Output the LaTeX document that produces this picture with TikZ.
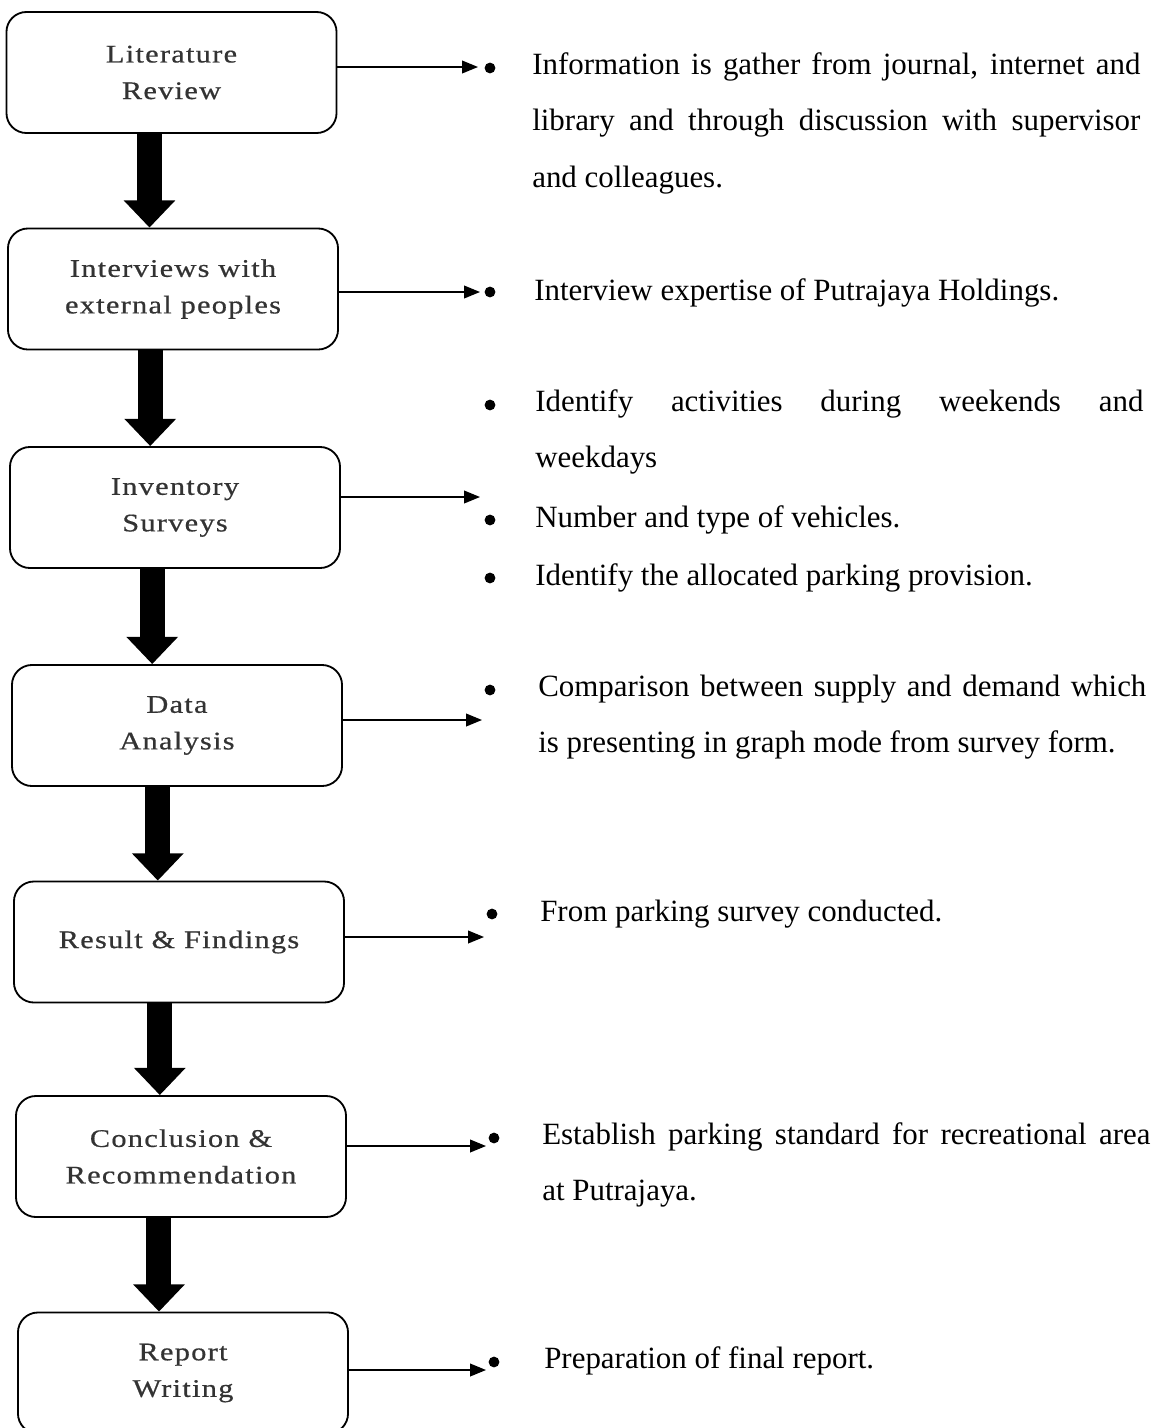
\documentclass[tikz,border=0pt]{standalone}
\usepackage{fontspec}
\setmainfont{Liberation Serif}
\newfontfamily\stagefont[LetterSpace=5,FakeStretch=1.2,FakeBold=0.6]{Liberation Serif}
\usetikzlibrary{arrows.meta}
\tikzset{
stage/.style={draw, line width=1.3pt, rounded corners=0.5cm, minimum width=8.25cm, minimum height=3.025cm, align=center, inner sep=0pt, text=black!80, font=\stagefont\fontsize{18}{26}\selectfont},
bigarrow/.style={line width=0.625cm, -{Triangle[length=0.68cm,width=1.25cm]}},
smallarrow/.style={line width=1pt, -{Triangle[length=0.4cm,width=0.32cm]}},
dot/.style={circle, fill, inner sep=0pt, minimum size=0.27cm},
item/.style={anchor=base west, inner sep=0pt, text width=15.2cm, align=justify, font=\fontsize{22}{40.5}\selectfont}
}
\begin{document}
\begin{tikzpicture}[x=0.025cm,y=-0.025cm]
\useasboundingbox (0,0) rectangle (1161,1428);
\node[stage] (lit) at (171.5,72.5) {Literature\\Review};
\node[stage] (int) at (173,289) {Interviews with\\external peoples};
\node[stage] (inv) at (175,507.5) {Inventory\\Surveys};
\node[stage] (dat) at (177,725.5) {Data\\Analysis};
\node[stage] (res) at (179,942) {Result \& Findings};
\node[stage] (con) at (181,1156.5) {Conclusion \&\\Recommendation};
\node[stage] (rep) at (183,1373) {Report\\Writing};
\draw[bigarrow] ([xshift=-0.55cm]lit.south) -- ([xshift=-0.55cm]lit.south |- int.north);
\draw[bigarrow] ([xshift=-0.57cm]int.south) -- ([xshift=-0.57cm]int.south |- inv.north);
\draw[bigarrow] ([xshift=-0.57cm]inv.south) -- ([xshift=-0.57cm]inv.south |- dat.north);
\draw[bigarrow] ([xshift=-0.48cm]dat.south) -- ([xshift=-0.48cm]dat.south |- res.north);
\draw[bigarrow] ([xshift=-0.48cm]res.south) -- ([xshift=-0.48cm]res.south |- con.north);
\draw[bigarrow] ([xshift=-0.55cm]con.south) -- ([xshift=-0.55cm]con.south |- rep.north);
\coordinate (t1) at (478,67);
\coordinate (t2) at (480,292);
\coordinate (t3) at (480,497);
\coordinate (t4) at (482,720);
\coordinate (t5) at (484,937);
\coordinate (t6) at (486,1146);
\coordinate (t7) at (486,1370);
\draw[smallarrow] (lit.east |- t1) -- (t1);
\draw[smallarrow] (int.east |- t2) -- (t2);
\draw[smallarrow] (inv.east |- t3) -- (t3);
\draw[smallarrow] (dat.east |- t4) -- (t4);
\draw[smallarrow] (res.east |- t5) -- (t5);
\draw[smallarrow] (con.east |- t6) -- (t6);
\draw[smallarrow] (rep.east |- t7) -- (t7);
\node[dot] (d1) at (490,68) {};
\node[item] (i1) at (532,74) {Information is gather from journal, internet and\linebreak library and through discussion with supervisor\linebreak and colleagues.};
\node[dot] (d2) at (490,292) {};
\node[item] (i2) at (534,300) {Interview expertise of Putrajaya Holdings.};
\node[dot] (d3) at (490,405) {};
\node[item] (i3) at (535,411) {Identify activities during weekends and\linebreak weekdays};
\node[dot] (d4) at (490,520) {};
\node[item] (i4) at (535,527) {Number and type of vehicles.};
\node[dot] (d5) at (490,578) {};
\node[item] (i5) at (535,585) {Identify the allocated parking provision.};
\node[dot] (d6) at (490,690) {};
\node[item] (i6) at (538,696) {Comparison between supply and demand which\linebreak is presenting in graph mode from survey form.};
\node[dot] (d7) at (492,914) {};
\node[item] (i7) at (540,921) {From parking survey conducted.};
\node[dot] (d8) at (494,1138) {};
\node[item] (i8) at (542,1144) {Establish parking standard for recreational area\linebreak at Putrajaya.};
\node[dot] (d9) at (494,1362) {};
\node[item] (i9) at (544,1368) {Preparation of final report.};
\end{tikzpicture}
\end{document}
